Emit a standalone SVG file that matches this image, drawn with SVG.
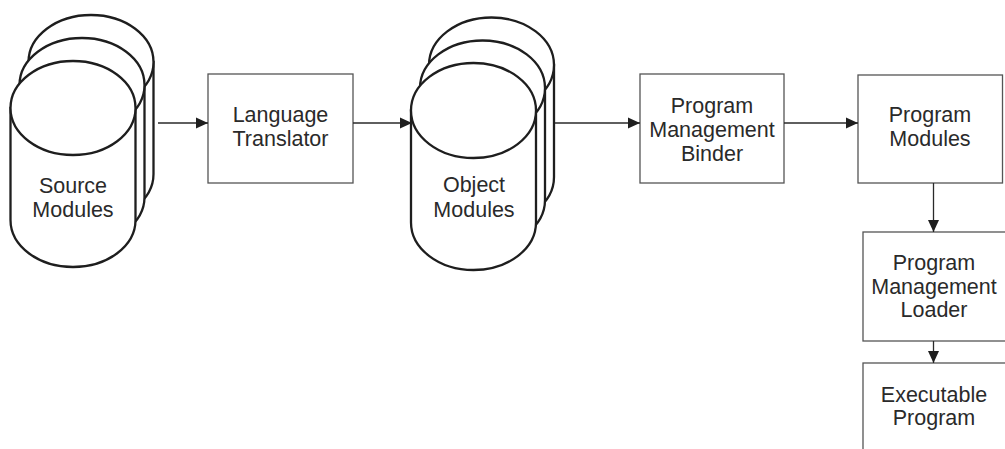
<svg xmlns="http://www.w3.org/2000/svg" width="1005" height="449" viewBox="0 0 1005 449">
<defs>
<style>
.cyl{fill:#fff;stroke:#1e1e1e;stroke-width:2.3}
.box{fill:#fff;stroke:#555;stroke-width:1.3}
.t{font-family:"Liberation Sans",Arial,sans-serif;font-size:21.5px;fill:#2a2a2a;text-anchor:middle}
.c{stroke:#2a2a2a;stroke-width:1.3;fill:none}
</style>
<marker id="ah" markerWidth="12" markerHeight="12" viewBox="0 0 12 12" refX="12" refY="6" orient="auto" markerUnits="userSpaceOnUse">
<path d="M0,0.5 L12,6 L0,11.5 Z" fill="#1e1e1e"/>
</marker>
</defs>
<rect width="1005" height="449" fill="#fff"/>
<g id="source-modules">
<path class="cyl" d="M28.5,62 V174 A62.5,47 0 0 0 153.5,174 V62 Z"/>
<ellipse class="cyl" cx="91" cy="62" rx="62.5" ry="47"/>
<path class="cyl" d="M19.5,85 V197 A62.5,47 0 0 0 144.5,197 V85 Z"/>
<ellipse class="cyl" cx="82" cy="85" rx="62.5" ry="47"/>
<path class="cyl" d="M10.5,108 V220 A62.5,47 0 0 0 135.5,220 V108 Z"/>
<ellipse class="cyl" cx="73" cy="108" rx="62.5" ry="47"/>
<text class="t" x="73" y="193">Source</text>
<text class="t" x="73" y="217">Modules</text>
</g>
<g id="language-translator">
<rect class="box" x="208" y="74" width="145" height="109"/>
<text class="t" x="280.5" y="122">Language</text>
<text class="t" x="280.5" y="145.5">Translator</text>
</g>
<g id="object-modules">
<path class="cyl" d="M429,65 V177 A62.5,47.5 0 0 0 554,177 V65 Z"/>
<ellipse class="cyl" cx="491.5" cy="65" rx="62.5" ry="47.5"/>
<path class="cyl" d="M420,88 V200 A62.5,47.5 0 0 0 545,200 V88 Z"/>
<ellipse class="cyl" cx="482.5" cy="88" rx="62.5" ry="47.5"/>
<path class="cyl" d="M411,110.5 V222.5 A62.5,47.5 0 0 0 536,222.5 V110.5 Z"/>
<ellipse class="cyl" cx="473.5" cy="110.5" rx="62.5" ry="47.5"/>
<text class="t" x="474" y="192">Object</text>
<text class="t" x="474" y="217">Modules</text>
</g>
<g id="pm-binder">
<rect class="box" x="640" y="74" width="144" height="109"/>
<text class="t" x="712" y="113">Program</text>
<text class="t" x="712" y="137">Management</text>
<text class="t" x="712" y="161">Binder</text>
</g>
<g id="program-modules">
<rect class="box" x="858" y="75" width="144.5" height="108"/>
<text class="t" x="930" y="122">Program</text>
<text class="t" x="930" y="145.5">Modules</text>
</g>
<g id="pm-loader">
<rect class="box" x="863" y="232" width="150" height="109"/>
<text class="t" x="934" y="270">Program</text>
<text class="t" x="934" y="294">Management</text>
<text class="t" x="934" y="317">Loader</text>
</g>
<g id="executable-program">
<rect class="box" x="863" y="363" width="150" height="100"/>
<text class="t" x="934" y="402">Executable</text>
<text class="t" x="934" y="425">Program</text>
</g>
<g id="connectors">
<line class="c" x1="158" y1="123" x2="208" y2="123" marker-end="url(#ah)"/>
<line class="c" x1="353" y1="123" x2="412" y2="123" marker-end="url(#ah)"/>
<line class="c" x1="555" y1="123" x2="640" y2="123" marker-end="url(#ah)"/>
<line class="c" x1="784" y1="123" x2="858" y2="123" marker-end="url(#ah)"/>
<line class="c" x1="933.5" y1="183" x2="933.5" y2="232" marker-end="url(#ah)"/>
<line class="c" x1="933.5" y1="341" x2="933.5" y2="363" marker-end="url(#ah)"/>
</g>
</svg>
